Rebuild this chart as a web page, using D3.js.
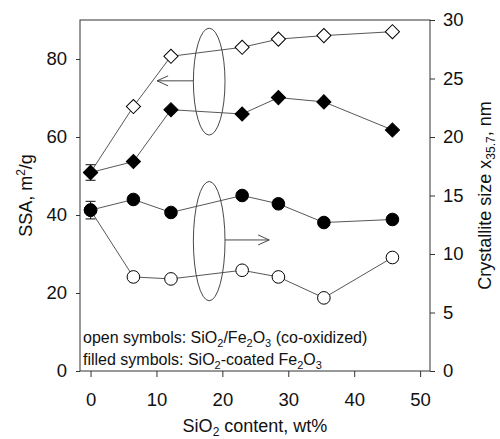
<!DOCTYPE html>
<html>
<head>
<meta charset="utf-8">
<script src="https://cdn.jsdelivr.net/npm/d3@7"></script>
<style>
  body { margin: 0; background: #fff; }
  svg { font-family: "Liberation Sans", Arial, sans-serif; }
</style>
</head>
<body>
<div id="chart"></div>
<script>
// SiO2 content, wt%
var sio2 = [0, 6.5, 12.2, 23, 28.5, 35.4, 45.8];
// SSA, m2/g (left axis)
var ssaOpen = [50.9, 67.8, 80.7, 83.0, 85.1, 86.0, 87.0];
var ssaFilled = [50.9, 53.7, 67.0, 65.9, 70.1, 69.0, 61.8];
// crystallite size, nm (right axis)
var sizeOpen = [13.75, 8.04, 7.87, 8.61, 8.04, 6.25, 9.7];
var sizeFilled = [13.75, 14.66, 13.55, 15.0, 14.29, 12.69, 12.95];
// error bars at 0 wt%
var ssaErr = 2.0, sizeErr = 0.75;

var xTicks = [0, 10, 20, 30, 40, 50];
var ssaTicks = [0, 20, 40, 60, 80];
var sizeTicks = [0, 5, 10, 15, 20, 25, 30];

var W = 500, H = 439;
var margin = {top: 20, right: 70, bottom: 68, left: 80},
    width = W - margin.left - margin.right,
    height = H - margin.top - margin.bottom;

var svg = d3.select("#chart").append("svg").attr("width", W).attr("height", H)
  .append("g").attr("transform", "translate(" + margin.left + "," + margin.top + ")");

var x = d3.scaleLinear().domain([-1.6, 51.5]).range([0, width]);
var yL = d3.scaleLinear().domain([0, 90]).range([height, 0]);
var yR = d3.scaleLinear().domain([0, 30]).range([height, 0]);

// frame
svg.append("rect").attr("width", width).attr("height", height)
  .attr("fill", "none").attr("stroke", "#333").attr("stroke-width", 1);

// axes
var gx = svg.append("g").attr("transform", "translate(0," + height + ")")
  .call(d3.axisBottom(x).tickValues(xTicks).tickSize(6).tickPadding(16).tickFormat(d3.format("d")));
var gl = svg.append("g")
  .call(d3.axisLeft(yL).tickValues(ssaTicks).tickSize(4).tickPadding(9));
var gr = svg.append("g").attr("transform", "translate(" + width + ",0)")
  .call(d3.axisRight(yR).tickValues(sizeTicks).tickSize(5).tickPadding(8));
[gx, gl, gr].forEach(function (g) {
  g.select(".domain").remove();
  g.selectAll("line").attr("stroke", "#333");
  g.selectAll("text").attr("font-size", "18.5px").attr("fill", "#111")
    .attr("font-family", "Liberation Sans, Arial, sans-serif");
});

// axis titles
svg.append("text").attr("transform", "translate(-48," + height / 2 + ") rotate(-90)")
  .attr("text-anchor", "middle").attr("font-size", "18px").attr("fill", "#111")
  .call(function (t) {
    t.append("tspan").text("SSA, m");
    t.append("tspan").attr("dy", -7).attr("font-size", "12px").text("2");
    t.append("tspan").attr("dy", 7).text("/g");
  });
svg.append("text").attr("transform", "translate(" + (width + 61) + "," + height / 2 + ") rotate(-90)")
  .attr("text-anchor", "middle").attr("font-size", "18px").attr("fill", "#111")
  .call(function (t) {
    t.append("tspan").text("Crystallite size x");
    t.append("tspan").attr("dy", 4).attr("font-size", "12px").text("35.7");
    t.append("tspan").attr("dy", -4).text(", nm");
  });
svg.append("text").attr("x", width / 2).attr("y", height + 61)
  .attr("text-anchor", "middle").attr("font-size", "18px").attr("fill", "#111")
  .call(function (t) {
    t.append("tspan").text("SiO");
    t.append("tspan").attr("dy", 4).attr("font-size", "12px").text("2");
    t.append("tspan").attr("dy", -4).text(" content, wt%");
  });

// ellipses with arrows
var ann = svg.append("g").attr("fill", "none").attr("stroke", "#333").attr("stroke-width", 0.9);
var rx = x(20.4) - x(18);
ann.append("ellipse").attr("cx", x(18)).attr("cy", yL(74.2)).attr("rx", rx)
  .attr("ry", yL(0) - yL(13.7));
ann.append("ellipse").attr("cx", x(18)).attr("cy", yR(11.1)).attr("rx", rx)
  .attr("ry", yR(0) - yR(5.1));
function arrow(x1, x2, yy) {
  var dir = x2 < x1 ? 1 : -1;
  ann.append("line").attr("x1", x1).attr("x2", x2).attr("y1", yy).attr("y2", yy);
  ann.append("path").attr("d", "M" + (x2 + dir * 11) + "," + (yy - 5) + "L" + x2 + "," + yy +
    "L" + (x2 + dir * 11) + "," + (yy + 5));
}
arrow(x(18) - rx, x(10.1), yL(74.4));
arrow(x(18) + rx, x(27.1), yR(11.2));

// legend text
var legend = svg.append("g").attr("font-size", "16px").attr("fill", "#111");
legend.append("text").attr("x", 3).attr("y", height - 28).call(function (t) {
  t.append("tspan").text("open symbols: SiO");
  t.append("tspan").attr("dy", 4).attr("font-size", "11px").text("2");
  t.append("tspan").attr("dy", -4).text("/Fe");
  t.append("tspan").attr("dy", 4).attr("font-size", "11px").text("2");
  t.append("tspan").attr("dy", -4).text("O");
  t.append("tspan").attr("dy", 4).attr("font-size", "11px").text("3");
  t.append("tspan").attr("dy", -4).text(" (co-oxidized)");
});
legend.append("text").attr("x", 3).attr("y", height - 6).call(function (t) {
  t.append("tspan").text("filled symbols: SiO");
  t.append("tspan").attr("dy", 4).attr("font-size", "11px").text("2");
  t.append("tspan").attr("dy", -4).text("-coated Fe");
  t.append("tspan").attr("dy", 4).attr("font-size", "11px").text("2");
  t.append("tspan").attr("dy", -4).text("O");
  t.append("tspan").attr("dy", 4).attr("font-size", "11px").text("3");
});

// series
var series = [
  {vals: ssaOpen, y: yL, shape: "diamond", fill: "#fff"},
  {vals: sizeOpen, y: yR, shape: "circle", fill: "#fff"},
  {vals: ssaFilled, y: yL, shape: "diamond", fill: "#000"},
  {vals: sizeFilled, y: yR, shape: "circle", fill: "#000"}
];

// lines first
series.forEach(function (s) {
  var line = d3.line().x(function (d, i) { return x(sio2[i]); }).y(function (d) { return s.y(d); });
  svg.append("path").datum(s.vals).attr("d", line)
    .attr("fill", "none").attr("stroke", "#444").attr("stroke-width", 0.9);
});

// error bars at 0 wt%
function errBar(yScale, v, e) {
  var g = svg.append("g").attr("stroke", "#222").attr("stroke-width", 1.1);
  var cx = x(sio2[0]);
  g.append("line").attr("x1", cx).attr("x2", cx).attr("y1", yScale(v - e)).attr("y2", yScale(v + e));
  [v - e, v + e].forEach(function (yy) {
    g.append("line").attr("x1", cx - 5).attr("x2", cx + 5).attr("y1", yScale(yy)).attr("y2", yScale(yy));
  });
}
errBar(yL, ssaFilled[0], ssaErr);
errBar(yR, sizeFilled[0], sizeErr);

var diamond = d3.symbol().type(d3.symbolSquare).size(100);
var circle = d3.symbol().type(d3.symbolCircle).size(125);
series.forEach(function (s) {
  svg.append("g").selectAll("path").data(s.vals).enter().append("path")
    .attr("d", s.shape === "diamond" ? diamond : circle)
    .attr("transform", function (d, i) {
      return "translate(" + x(sio2[i]) + "," + s.y(d) + ")" + (s.shape === "diamond" ? " rotate(45)" : "");
    })
    .attr("fill", s.fill).attr("stroke", "#000").attr("stroke-width", 1);
});
</script>
</body>
</html>
